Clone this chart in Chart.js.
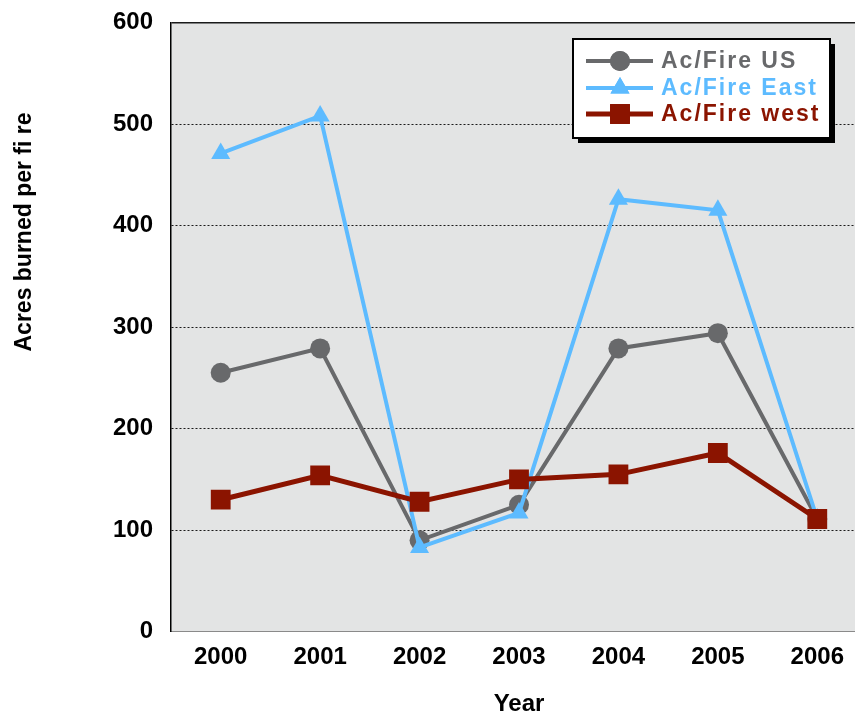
<!DOCTYPE html>
<html><head><meta charset="utf-8">
<script src="https://cdn.jsdelivr.net/npm/chart.js@4"></script>
<style>
html,body{margin:0;padding:0;overflow:hidden;background:#fff}
#wrap{width:855px;height:717px;position:relative;overflow:hidden}
canvas{display:block}
</style></head>
<body><div id="wrap"><canvas id="c" width="870" height="717" style="width:870px;height:717px"></canvas></div>
<script>
const years = ['2000','2001','2002','2003','2004','2005','2006'];
const acPerFireUS   = [255, 279, 90, 125, 279, 294, 111];
const acPerFireEast = [471, 508, 83, 117, 426, 415, 111];
const acPerFireWest = [130, 154, 128, 150, 155, 176, 111];
const seriesLabels = ['Ac/Fire US','Ac/Fire East','Ac/Fire west'];
const yMin = 0, yMax = 600, yStep = 100;
const xTitle = 'Year';
const yTitle = 'Acres burned per fi re';

const FONT = '"Liberation Sans", Arial, Helvetica, sans-serif';
const colors = ['#68696b', '#5dbbff', '#8b1400'];

const bgPlugin = {
  id: 'bg',
  beforeDraw(chart) {
    const {ctx, chartArea: a} = chart;
    ctx.save();
    ctx.fillStyle = '#e3e4e4';
    ctx.fillRect(a.left, a.top, a.right - a.left, a.bottom - a.top);
    ctx.restore();
  }
};

const yTitlePlugin = {
  id: 'ytitle',
  afterDraw(chart) {
    const ctx = chart.ctx;
    ctx.save();
    ctx.translate(25, 232);
    ctx.rotate(-Math.PI / 2);
    ctx.font = 'bold 23px ' + FONT;
    ctx.fillStyle = '#000';
    ctx.textAlign = 'center';
    ctx.textBaseline = 'middle';
    ctx.fillText(yTitle, 0, 0);
    ctx.restore();
  }
};

const legendPlugin = {
  id: 'boxLegend',
  afterDraw(chart) {
    const ctx = chart.ctx;
    const bx = 573, by = 39, bw = 257, bh = 99, sh = 5;
    ctx.save();
    ctx.fillStyle = '#000';
    ctx.fillRect(bx + sh, by + sh, bw, bh);
    ctx.fillStyle = '#fff';
    ctx.fillRect(bx, by, bw, bh);
    ctx.lineWidth = 2;
    ctx.strokeStyle = '#000';
    ctx.strokeRect(bx, by, bw, bh);
    const rowY = [61, 88, 114];
    chart.data.datasets.forEach((ds, i) => {
      const y = rowY[i];
      ctx.strokeStyle = ds.borderColor;
      ctx.lineWidth = ds.borderWidth;
      ctx.beginPath();
      ctx.moveTo(586, y);
      ctx.lineTo(653, y);
      ctx.stroke();
      ctx.fillStyle = ds.borderColor;
      ctx.beginPath();
      Chart.helpers.drawPoint(ctx, {pointStyle: ds.pointStyle, radius: ds.pointRadius, rotation: 0, borderWidth: 0}, 620, y);
      ctx.fill();
      ctx.font = 'bold 23px ' + FONT;
      ctx.letterSpacing = '2px';
      ctx.textAlign = 'left';
      ctx.textBaseline = 'middle';
      ctx.fillText(ds.label, 661, y + 1);
      ctx.letterSpacing = '0px';
    });
    ctx.restore();
  }
};

function mkDs(label, data, color, style, radius, width, order) {
  return {
    label, data,
    borderColor: color, backgroundColor: color,
    pointBackgroundColor: color, pointBorderColor: color,
    pointStyle: style, pointRadius: radius, pointBorderWidth: 0,
    pointHoverRadius: radius,
    borderWidth: width, tension: 0, order
  };
}

function noOverhang(s) {
  s.paddingTop = 0; s.paddingBottom = 0; s.paddingLeft = 0; s.paddingRight = 0;
}

new Chart(document.getElementById('c'), {
  type: 'line',
  data: {
    labels: years,
    datasets: [
      mkDs(seriesLabels[0], acPerFireUS, colors[0], 'circle', 10, 4, 3),
      mkDs(seriesLabels[1], acPerFireEast, colors[1], 'triangle', 11, 4, 2),
      mkDs(seriesLabels[2], acPerFireWest, colors[2], 'rect', 14, 5, 1)
    ]
  },
  plugins: [bgPlugin, yTitlePlugin, legendPlugin],
  options: {
    responsive: false,
    maintainAspectRatio: false,
    devicePixelRatio: 1,
    animation: false,
    events: [],
    layout: {autoPadding: false, padding: {top: 22.5, right: 3, left: 0, bottom: 0}},
    plugins: {legend: {display: false}, tooltip: {enabled: false}},
    scales: {
      x: {
        offset: true,
        grid: {display: false, drawTicks: false},
        border: {display: true, color: '#8a8a8a', width: 1},
        ticks: {color: '#000', font: {family: FONT, size: 24, weight: 'bold'}, padding: 11, maxRotation: 0},
        title: {display: true, text: xTitle, color: '#000', font: {family: FONT, size: 24, weight: 'bold'}, padding: {top: 4, bottom: -2}},
        afterFit(s) { s.height = 85.3; noOverhang(s); }
      },
      y: {
        min: yMin, max: yMax,
        grid: {
          color: '#1a1a1a',
          lineWidth: c => (c.tick && c.tick.value === yMax) ? 1.5 : 1,
          drawTicks: false
        },
        border: {
          display: true, color: '#000', width: 1.5,
          dash: c => (c.tick && (c.tick.value === yMax)) ? [] : [2, 2]
        },
        ticks: {stepSize: yStep, color: '#000', font: {family: FONT, size: 24, weight: 'bold'}, padding: 18},
        afterFit(s) { s.width = 171; noOverhang(s); }
      }
    }
  }
});
</script>
</body></html>
